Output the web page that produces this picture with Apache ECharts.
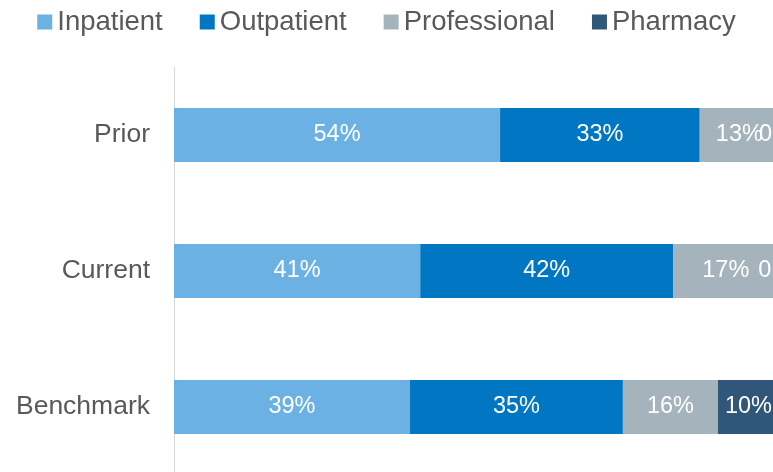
<!DOCTYPE html>
<html>
<head>
<meta charset="utf-8">
<script src="https://cdn.jsdelivr.net/npm/echarts@6/dist/echarts.min.js"></script>
<style>
html,body{margin:0;padding:0;background:#fff;}
#chart{width:773px;height:472px;}
</style>
</head>
<body>
<div id="chart"></div>
<script>
var categories = ['Prior', 'Current', 'Benchmark'];
var seriesNames = ['Inpatient', 'Outpatient', 'Professional', 'Pharmacy'];
var inpatient = [53.9, 40.7, 39.0];
var outpatient = [33.0, 41.8, 35.2];
var professional = [13.1, 17.4, 15.7];
var pharmacy = [0, 0, 10.1];
var colors = ['#6BB1E4', '#0176C3', '#A5B4BC', '#305779'];

var allValues = [inpatient, outpatient, professional, pharmacy];
var FONT = '"Liberation Sans", Arial, sans-serif';

var series = seriesNames.map(function (name, si) {
  return {
    name: name,
    type: 'bar',
    stack: 'total',
    barWidth: 54,
    itemStyle: { color: colors[si] },
    label: {
      show: true,
      position: 'inside',
      color: '#ffffff',
      fontSize: 23.5,
      fontFamily: FONT,
      formatter: function (p) { return p.value === 0 ? '0' : Math.round(p.value) + '%'; }
    },
    data: allValues[si].map(function (v) {
      if (v === 0) {
        return { value: v, label: { position: 'left', distance: 7 } };
      }
      return v;
    })
  };
});

var chart = echarts.init(document.getElementById('chart'));
chart.setOption({
  animation: false,
  legend: {
    data: seriesNames,
    left: 'center',
    top: 3,
    itemWidth: 15,
    itemHeight: 15,
    itemGap: 37,
    icon: 'rect',
    textStyle: { color: '#595959', fontSize: 27.5, fontFamily: FONT }
  },
  grid: { left: 174, width: 605, top: 67, height: 408, containLabel: false, outerBoundsMode: 'none' },
  xAxis: {
    type: 'value',
    min: 0,
    max: 100,
    show: false
  },
  yAxis: {
    type: 'category',
    data: categories,
    inverse: true,
    axisLine: { show: true, lineStyle: { color: '#d9d9d9', width: 1 } },
    axisTick: { show: false },
    axisLabel: { color: '#595959', fontSize: 26.5, fontFamily: FONT, margin: 24 }
  },
  series: series
});
</script>
</body>
</html>
